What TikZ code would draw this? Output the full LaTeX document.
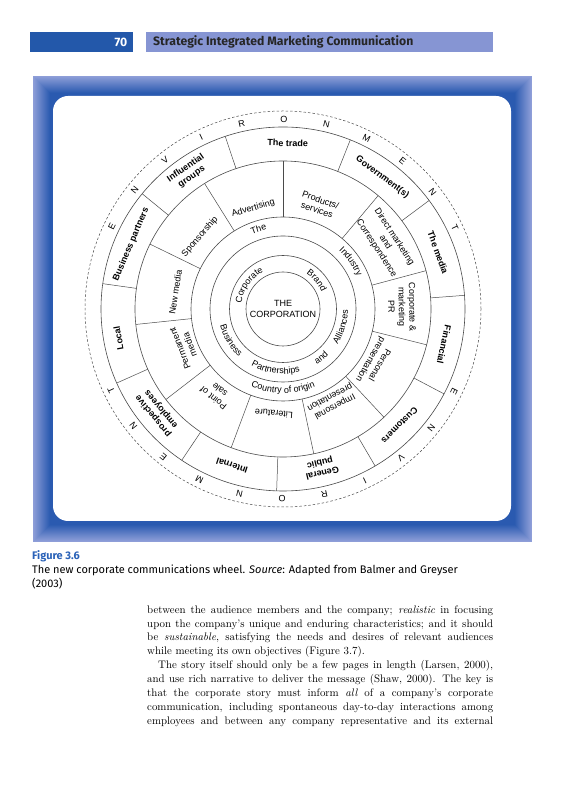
\documentclass[tikz,border=0pt]{standalone}
\usepackage{fontspec}
\setsansfont{Liberation Sans}
\newfontfamily\headfont{Fira Sans}
\usetikzlibrary{decorations.text}
\definecolor{frameDark}{HTML}{2A5AB0}
\definecolor{frameLight}{HTML}{8E9ED8}
\definecolor{hdrDark}{HTML}{2358AA}
\definecolor{hdrLight}{HTML}{8695D3}
\definecolor{capBlue}{HTML}{2A62B8}
\definecolor{wheelc}{HTML}{4A4A4A}
\begin{document}
\begin{tikzpicture}[x=1pt,y=1pt,
  midlab/.style={font=\sffamily\fontsize{9}{10.5}\selectfont, align=center, inner sep=0pt},
  outlab/.style={font=\sffamily\bfseries\fontsize{9}{10.5}\selectfont, align=center, inner sep=0pt},
  envlab/.style={font=\sffamily\fontsize{9}{10}\selectfont, inner sep=0pt},
  ringline/.style={draw=wheelc, line width=0.6pt},
  divline/.style={draw=wheelc, line width=0.5pt},
  bodyline/.style={anchor=base west, inner sep=0pt, font=\rmfamily\fontsize{10.9}{13.85}\selectfont},
  curv/.style={decorate, decoration={text along path, text align=center, text={|\sffamily\fontsize{9}{10}\selectfont|#1}}}
]
\useasboundingbox (0,0) rectangle (564,800);
\fill[white] (0,0) rectangle (564,800);

% header
\fill[hdrDark] (30,748) rectangle (133,768);
\fill[hdrLight] (146,748) rectangle (493,768);
\node[anchor=east, text=white, inner sep=0pt, font=\headfont\bfseries\fontsize{12.2}{13}\selectfont] (pgnum) at (127.5,758) {70};
\node[anchor=west, text=black!85, inner sep=0pt, font=\headfont\bfseries\fontsize{12.2}{13}\selectfont] (title) at (153,758) {Strategic Integrated Marketing Communication};

% frame
\foreach \i in {0,...,20} {
  \pgfmathtruncatemacro\p{min(100,\i*6)}
  \fill[frameDark!\p!frameLight] (33+\i,257.5+\i) rectangle (532-\i,724-\i);
}
\fill[white, rounded corners=15pt] (53,279) rectangle (511,704);

% wheel
\begin{scope}[shift={(283,491)}]
  \coordinate (c) at (0,0);
  \foreach \r in {37,53.5,73,92,148,182} \draw[ringline] (c) circle[radius=\r];
  \draw[wheelc, line width=0.5pt, dash pattern=on 2.5pt off 2pt] (c) circle[radius=198];
  \foreach \a in {90,50,15,-14,-47,-78,-110.5,-142.3,-174,154,122}
    \draw[divline] (\a:92) -- (\a:148);
  \foreach \a in {108.5,68.3,36.6,4.3,-27.8,-59.6,-92,-123.8,-156,172,140.7}
    \draw[divline] (\a:148) -- (\a:182);

  \node[midlab] (corp) at (c) {THE\\CORPORATION};

  % inner rings (curved text)
  \path[curv=Corporate] (195:42) arc[start angle=195, end angle=95, radius=42];
  \path[curv=Brand] (80:42) arc[start angle=80, end angle=0, radius=42];
  \path[curv=Business] (171:65) arc[start angle=171, end angle=251, radius=65];
  \path[curv=Partnerships] (223:65) arc[start angle=223, end angle=303, radius=65];
  \path[curv=and] (283:65) arc[start angle=283, end angle=333, radius=65];
  \path[curv=Alliances] (303:65) arc[start angle=303, end angle=383, radius=65];
  \path[curv=The] (137:81) arc[start angle=137, end angle=77, radius=81];
  \path[curv=Industry] (75:81) arc[start angle=75, end angle=-5, radius=81];
  \path[curv=Country of origin] (210:84) arc[start angle=210, end angle=330, radius=84];

  % middle ring
  \node[midlab, rotate=16.5] (adv) at (106.5:105) {Advertising};
  \node[midlab, rotate=-19] (prod) at (71:110) {Products/\\services};
  \node[midlab, rotate=-57] (direct) at (33:122) {Direct marketing\\and\\Correspondence};
  \node[midlab, rotate=-89] (cmpr) at (1:119) {Corporate \&\\marketing\\PR};
  \node[midlab, rotate=-120] (pers) at (-30:106) {Personal\\presentation};
  \node[midlab, rotate=-152] (imp) at (-62:105) {Impersonal\\presentation};
  \node[midlab, rotate=-185] (lit) at (-95:105) {Literature};
  \node[midlab, rotate=142] (pos) at (-128:108) {Point of\\sale};
  \node[midlab, rotate=111] (perm) at (201:105) {Permanent\\media};
  \node[midlab, rotate=81] (newm) at (171:109) {New media};
  \node[midlab, rotate=49] (spons) at (139:110) {Sponsorship};

  % outer ring
  \node[outlab, rotate=-1.6] (trade) at (88.4:166) {The trade};
  \node[outlab, rotate=-37] (gov) at (53:165) {Government(s)};
  \node[outlab, rotate=-70] (media) at (20:165) {The media};
  \node[outlab, rotate=-102.5] (fin) at (-12.5:165) {Financial};
  \node[outlab, rotate=-135] (cust) at (-45:165) {Customers};
  \node[outlab, rotate=-166.5] (gp) at (-76.5:163) {General\\public};
  \node[outlab, rotate=-198] (intl) at (-108:165) {Internal};
  \node[outlab, rotate=-230.5] (pe) at (-140.5:163) {prospective\\employees};
  \node[outlab, rotate=100] (local) at (190:167) {Local};
  \node[outlab, rotate=67] (bp) at (157:165) {Business partners};
  \node[outlab, rotate=34.6] (ig) at (124.6:166) {Influential\\groups};

  % ENVIRONMENT letters
  \foreach \L [count=\k from 0] in {E,N,V,I,R,O,N,M,E,N,T} {
    \pgfmathsetmacro\aa{154.2-12.9*\k}
    \node[envlab, rotate=\aa-90] (top\k) at (\aa:190) {\L};
    \pgfmathsetmacro\bb{-25.8-12.9*\k}
    \node[envlab, rotate=\bb-90] (bot\k) at (\bb:190) {\L};
  }
\end{scope}

% caption
\node[anchor=base west, inner sep=0pt, text=capBlue, font=\headfont\bfseries\fontsize{11}{13}\selectfont] (fig) at (32,240) {Figure 3.6};
\node[anchor=base west, inner sep=0pt, font=\headfont\fontsize{11}{13}\selectfont] (cap1) at (32,226) {The new corporate communications wheel. \textit{Source}: Adapted from Balmer and Greyser};
\node[anchor=base west, inner sep=0pt, font=\headfont\fontsize{11}{13}\selectfont] (cap2) at (32,212) {(2003)};

% body text
\node[bodyline] (l1) at (147,186.7) {\makebox[346pt][s]{between the audience members and the company; \textit{realistic} in focusing}};
\node[bodyline] (l2) at (147,172.8) {\makebox[346pt][s]{upon the company’s unique and enduring characteristics; and it should}};
\node[bodyline] (l3) at (147,159) {\makebox[346pt][s]{be \textit{sustainable}, satisfying the needs and desires of relevant audiences}};
\node[bodyline] (l4) at (147,145.1) {while meeting its own objectives (Figure 3.7).};
\node[bodyline] (l5) at (158,131.2) {\makebox[335pt][s]{The story itself should only be a few pages in length (Larsen, 2000),}};
\node[bodyline] (l6) at (147,117.4) {\makebox[346pt][s]{and use rich narrative to deliver the message (Shaw, 2000). The key is}};
\node[bodyline] (l7) at (147,103.5) {\makebox[346pt][s]{that the corporate story must inform \textit{all} of a company’s corporate}};
\node[bodyline] (l8) at (147,89.7) {\makebox[346pt][s]{communication, including spontaneous day-to-day interactions among}};
\node[bodyline] (l9) at (147,75.8) {\makebox[346pt][s]{employees and between any company representative and its external}};
\end{tikzpicture}
\end{document}
